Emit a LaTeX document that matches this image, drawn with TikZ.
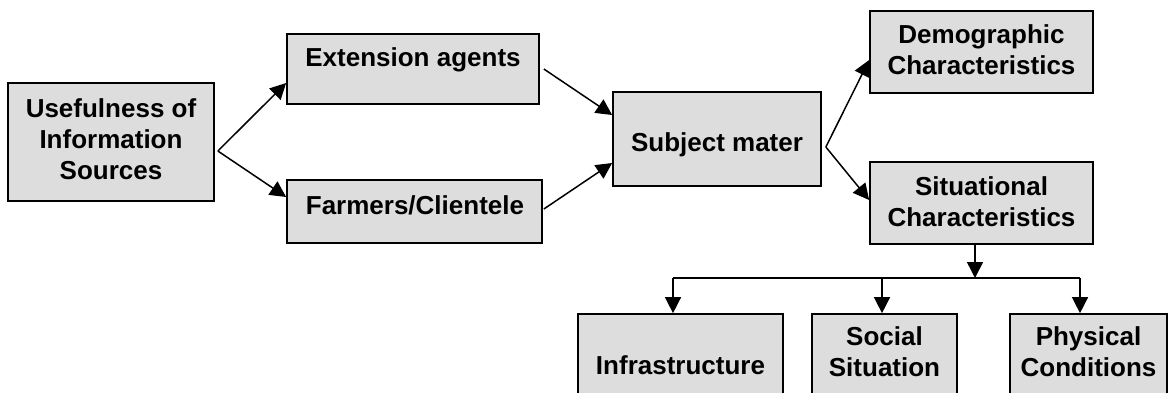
\documentclass[tikz,border=0pt]{standalone}
\usepackage{fontspec}
\setmainfont{Liberation Sans}
\usetikzlibrary{arrows.meta}
\begin{document}
\begin{tikzpicture}[x=1pt,y=-1pt,
  box/.style={draw=black, fill=boxgray, line width=1.7pt, inner sep=0pt, rectangle},
  txt/.style={align=center, inner sep=0pt, font=\fontsize{26}{31}\selectfont\bfseries},
  arr/.style={line width=1.5pt, -{Triangle[length=16pt,width=16pt]}},
  ln/.style={line width=1.5pt}]
\definecolor{boxgray}{HTML}{DDDDDD}
\useasboundingbox (0,0) rectangle (1169,392);
\clip (0,0) rectangle (1169,392);
% boxes
\node[box, minimum width=206pt, minimum height=118pt] (U) at (111,142) {};
\node[box, minimum width=252pt, minimum height=70pt] (E) at (413,69) {};
\node[box, minimum width=255pt, minimum height=63pt] (F) at (414.5,211.5) {};
\node[box, minimum width=208pt, minimum height=94pt] (S) at (717,139) {};
\node[box, minimum width=223pt, minimum height=82pt] (D) at (981.5,52) {};
\node[box, minimum width=223pt, minimum height=82pt] (Sit) at (981.5,203) {};
\node[box, minimum width=205pt, minimum height=110pt] (I) at (680.5,369) {};
\node[box, minimum width=145pt, minimum height=110pt] (So) at (884.5,369) {};
\node[box, minimum width=157pt, minimum height=110pt] (P) at (1088.5,369) {};
% texts
\node[txt] (tU) at (111,139.5) {Usefulness of\\Information\\Sources};
\node[txt] (tE) at (413,60) {Extension agents};
\node[txt] (tF) at (415,205) {Farmers/Clientele};
\node[txt] (tS) at (717,145) {Subject mater};
\node[txt] (tD) at (981.5,50) {Demographic\\Characteristics};
\node[txt] (tSit) at (981.5,202) {Situational\\Characteristics};
\node[txt] (tI) at (680.5,365) {Infrastructure};
\node[txt] (tSo) at (884.5,352) {Social\\Situation};
\node[txt] (tP) at (1088.5,352) {Physical\\Conditions};
% connectors
\coordinate (f1) at ([xshift=3pt,yshift=-9pt]U.east);
\draw[arr] (f1) -- ([yshift=-14pt]E.west);
\draw[arr] (f1) -- ([yshift=14.5pt]F.west);
\draw[arr] ([xshift=4pt]E.east) -- ([yshift=24pt]S.west);
\draw[arr] ([xshift=1pt,yshift=2.5pt]F.east) -- ([yshift=-24pt]S.west);
\coordinate (f2) at ([xshift=4pt,yshift=-8pt]S.east);
\draw[arr] (f2) -- ([yshift=-8pt]D.west);
\draw[arr] (f2) -- ([yshift=3pt]Sit.west);
\coordinate (bar) at (975,278);
\coordinate (iI) at ([xshift=-7.5pt]I.north);
\coordinate (iSo) at ([xshift=-2.5pt]So.north);
\coordinate (iP) at ([xshift=-8.5pt]P.north);
\draw[arr] ([xshift=-6.5pt]Sit.south) -- (bar);
\draw[ln] (iI |- bar) -- (iP |- bar);
\draw[arr] (iI |- bar) -- (iI);
\draw[arr] (iSo |- bar) -- (iSo);
\draw[arr] (iP |- bar) -- (iP);
\end{tikzpicture}
\end{document}
